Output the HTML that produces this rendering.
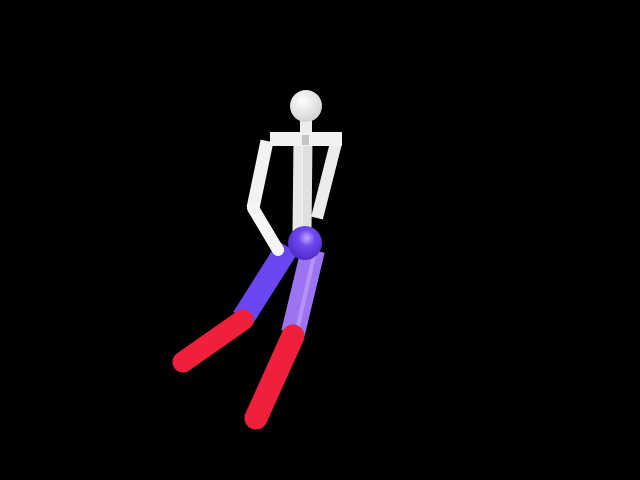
<!DOCTYPE html>
<html><head><meta charset="utf-8"><style>html,body{margin:0;padding:0;background:#000;width:640px;height:480px;overflow:hidden}</style></head>
<body>
<svg width="640" height="480" viewBox="0 0 640 480">
<defs>
<linearGradient id="wh" x1="0" y1="0" x2="1" y2="0"><stop offset="0" stop-color="#e8e8e8"/><stop offset="0.5" stop-color="#ffffff"/><stop offset="1" stop-color="#e0e0e0"/></linearGradient>
<radialGradient id="hd" cx="0.4" cy="0.35" r="0.7"><stop offset="0" stop-color="#fff"/><stop offset="1" stop-color="#d0d0d0"/></radialGradient>
<radialGradient id="pv" cx="0.55" cy="0.35" r="0.7"><stop offset="0" stop-color="#c0a8ff"/><stop offset="0.35" stop-color="#7048f0"/><stop offset="1" stop-color="#4a28c0"/></radialGradient>
</defs>
<rect width="640" height="480" fill="#000"/>
<line x1="336" y1="143" x2="317" y2="218" stroke="#ececec" stroke-width="12"/>
<line x1="313" y1="250" x2="293" y2="333" stroke="#9c74f2" stroke-width="24"/>
<line x1="315" y1="252" x2="297" y2="330" stroke="#c8a8ff" stroke-width="4" opacity="0.6"/>
<line x1="293" y1="336" x2="256" y2="418" stroke="#f0203c" stroke-width="23" stroke-linecap="round"/>
<line x1="288" y1="247" x2="243" y2="318" stroke="#6a46f0" stroke-width="23"/>
<line x1="243" y1="320" x2="183" y2="362" stroke="#f0203c" stroke-width="21" stroke-linecap="round"/>
<line x1="303" y1="140" x2="302" y2="232" stroke="url(#wh)" stroke-width="19"/>
<line x1="267" y1="141" x2="253" y2="208" stroke="#f2f2f2" stroke-width="13"/>
<line x1="253" y1="208" x2="278" y2="250" stroke="#f6f6f6" stroke-width="12" stroke-linecap="round"/>
<rect x="300" y="118" width="12" height="22" fill="#ececec"/>
<rect x="270" y="132" width="72" height="14" fill="#f2f2f2"/>
<rect x="302" y="135" width="7" height="10" fill="#c4c4c4"/>
<circle cx="306" cy="106" r="16" fill="url(#hd)"/>
<circle cx="305" cy="243" r="17" fill="url(#pv)"/>
</svg>
</body></html>
